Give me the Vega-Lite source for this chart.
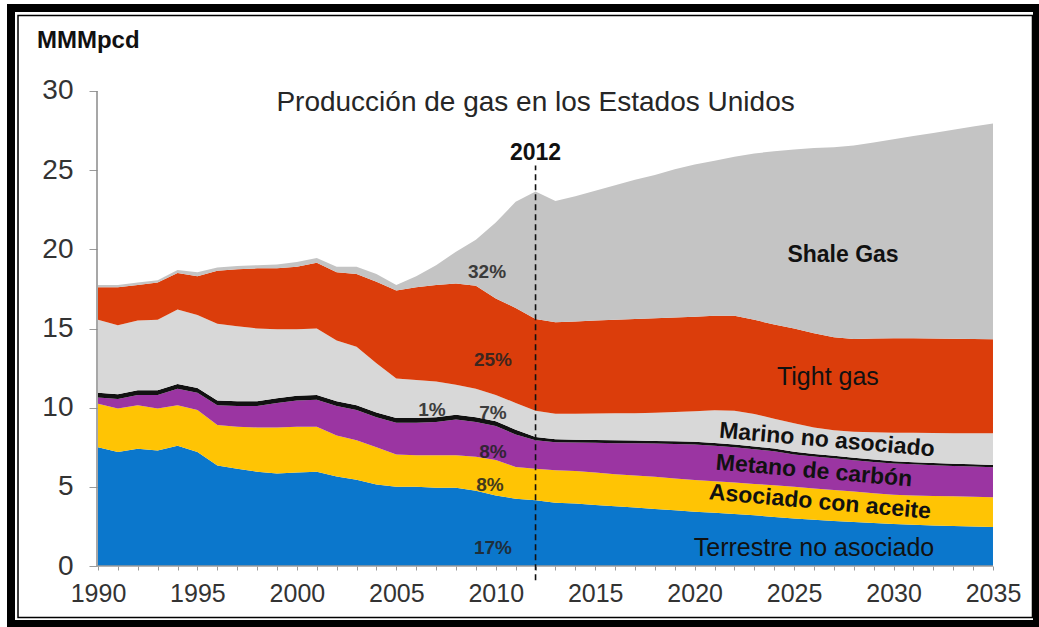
{
  "$schema": "https://vega.github.io/schema/vega-lite/v6.json",
  "width": 1026,
  "height": 616,
  "padding": {"left": 11, "top": 8, "right": 2, "bottom": 3},
  "autosize": {"type": "none"},
  "background": "white",
  "config": {
    "view": {"stroke": "black", "strokeWidth": 8, "fill": "white"},
    "font": "Liberation Sans",
    "text": {"font": "Liberation Sans"}
  },
  "resolve": {"axis": {"x": "independent"}},
  "layer": [
    {
      "data": {"values": [
        {"year":1990,"a_terrestre":7.5,"b_asociado":2.75,"c_metano":0.4,"d_alaska":0.3,"e_marino":4.6,"f_tight":2.05,"g_shale":0.15},
        {"year":1991,"a_terrestre":7.2,"b_asociado":2.75,"c_metano":0.6,"d_alaska":0.3,"e_marino":4.35,"f_tight":2.4,"g_shale":0.15},
        {"year":1992,"a_terrestre":7.4,"b_asociado":2.75,"c_metano":0.65,"d_alaska":0.3,"e_marino":4.4,"f_tight":2.25,"g_shale":0.15},
        {"year":1993,"a_terrestre":7.3,"b_asociado":2.65,"c_metano":0.85,"d_alaska":0.3,"e_marino":4.45,"f_tight":2.35,"g_shale":0.15},
        {"year":1994,"a_terrestre":7.6,"b_asociado":2.55,"c_metano":1.05,"d_alaska":0.3,"e_marino":4.7,"f_tight":2.3,"g_shale":0.2},
        {"year":1995,"a_terrestre":7.2,"b_asociado":2.65,"c_metano":1.1,"d_alaska":0.3,"e_marino":4.6,"f_tight":2.45,"g_shale":0.25},
        {"year":1996,"a_terrestre":6.35,"b_asociado":2.55,"c_metano":1.25,"d_alaska":0.3,"e_marino":4.85,"f_tight":3.35,"g_shale":0.2},
        {"year":1997,"a_terrestre":6.15,"b_asociado":2.65,"c_metano":1.3,"d_alaska":0.3,"e_marino":4.75,"f_tight":3.6,"g_shale":0.2},
        {"year":1998,"a_terrestre":5.95,"b_asociado":2.8,"c_metano":1.35,"d_alaska":0.3,"e_marino":4.6,"f_tight":3.8,"g_shale":0.2},
        {"year":1999,"a_terrestre":5.85,"b_asociado":2.9,"c_metano":1.55,"d_alaska":0.3,"e_marino":4.35,"f_tight":3.85,"g_shale":0.25},
        {"year":2000,"a_terrestre":5.9,"b_asociado":2.9,"c_metano":1.65,"d_alaska":0.3,"e_marino":4.2,"f_tight":3.95,"g_shale":0.3},
        {"year":2001,"a_terrestre":5.95,"b_asociado":2.85,"c_metano":1.7,"d_alaska":0.3,"e_marino":4.2,"f_tight":4.15,"g_shale":0.3},
        {"year":2002,"a_terrestre":5.65,"b_asociado":2.6,"c_metano":1.85,"d_alaska":0.3,"e_marino":3.85,"f_tight":4.3,"g_shale":0.35},
        {"year":2003,"a_terrestre":5.45,"b_asociado":2.5,"c_metano":1.9,"d_alaska":0.3,"e_marino":3.7,"f_tight":4.6,"g_shale":0.45},
        {"year":2004,"a_terrestre":5.15,"b_asociado":2.35,"c_metano":1.9,"d_alaska":0.3,"e_marino":3.1,"f_tight":5.15,"g_shale":0.5},
        {"year":2005,"a_terrestre":5.0,"b_asociado":2.05,"c_metano":2.0,"d_alaska":0.3,"e_marino":2.5,"f_tight":5.55,"g_shale":0.35},
        {"year":2006,"a_terrestre":5.0,"b_asociado":2.0,"c_metano":2.05,"d_alaska":0.3,"e_marino":2.4,"f_tight":5.85,"g_shale":0.7},
        {"year":2007,"a_terrestre":4.95,"b_asociado":2.05,"c_metano":2.1,"d_alaska":0.3,"e_marino":2.25,"f_tight":6.1,"g_shale":1.25},
        {"year":2008,"a_terrestre":4.95,"b_asociado":2.05,"c_metano":2.25,"d_alaska":0.3,"e_marino":1.9,"f_tight":6.4,"g_shale":2.0},
        {"year":2009,"a_terrestre":4.75,"b_asociado":2.15,"c_metano":2.2,"d_alaska":0.3,"e_marino":1.8,"f_tight":6.5,"g_shale":2.9},
        {"year":2010,"a_terrestre":4.45,"b_asociado":2.25,"c_metano":2.15,"d_alaska":0.3,"e_marino":1.65,"f_tight":6.1,"g_shale":4.8},
        {"year":2011,"a_terrestre":4.25,"b_asociado":2.0,"c_metano":2.05,"d_alaska":0.3,"e_marino":1.7,"f_tight":6.0,"g_shale":6.7},
        {"year":2012,"a_terrestre":4.15,"b_asociado":2.0,"c_metano":1.8,"d_alaska":0.2,"e_marino":1.65,"f_tight":5.8,"g_shale":8.05},
        {"year":2013,"a_terrestre":4.0,"b_asociado":2.05,"c_metano":1.77,"d_alaska":0.18,"e_marino":1.62,"f_tight":5.78,"g_shale":7.65},
        {"year":2014,"a_terrestre":3.95,"b_asociado":2.05,"c_metano":1.8,"d_alaska":0.18,"e_marino":1.64,"f_tight":5.83,"g_shale":7.9},
        {"year":2015,"a_terrestre":3.85,"b_asociado":2.05,"c_metano":1.88,"d_alaska":0.18,"e_marino":1.67,"f_tight":5.87,"g_shale":8.2},
        {"year":2016,"a_terrestre":3.78,"b_asociado":2.02,"c_metano":1.96,"d_alaska":0.18,"e_marino":1.7,"f_tight":5.91,"g_shale":8.5},
        {"year":2017,"a_terrestre":3.7,"b_asociado":2.02,"c_metano":2.03,"d_alaska":0.17,"e_marino":1.73,"f_tight":5.95,"g_shale":8.8},
        {"year":2018,"a_terrestre":3.6,"b_asociado":2.03,"c_metano":2.1,"d_alaska":0.17,"e_marino":1.78,"f_tight":5.97,"g_shale":9.05},
        {"year":2019,"a_terrestre":3.52,"b_asociado":2.01,"c_metano":2.18,"d_alaska":0.17,"e_marino":1.85,"f_tight":5.97,"g_shale":9.35},
        {"year":2020,"a_terrestre":3.43,"b_asociado":2.0,"c_metano":2.25,"d_alaska":0.17,"e_marino":1.93,"f_tight":5.97,"g_shale":9.6},
        {"year":2021,"a_terrestre":3.36,"b_asociado":1.99,"c_metano":2.25,"d_alaska":0.17,"e_marino":2.06,"f_tight":5.97,"g_shale":9.8},
        {"year":2022,"a_terrestre":3.28,"b_asociado":1.99,"c_metano":2.23,"d_alaska":0.17,"e_marino":2.13,"f_tight":6.0,"g_shale":10.05},
        {"year":2023,"a_terrestre":3.2,"b_asociado":1.98,"c_metano":2.2,"d_alaska":0.17,"e_marino":2.05,"f_tight":5.95,"g_shale":10.5},
        {"year":2024,"a_terrestre":3.1,"b_asociado":2.0,"c_metano":2.15,"d_alaska":0.17,"e_marino":1.88,"f_tight":5.95,"g_shale":10.95},
        {"year":2025,"a_terrestre":3.0,"b_asociado":2.0,"c_metano":2.05,"d_alaska":0.17,"e_marino":1.8,"f_tight":5.98,"g_shale":11.3},
        {"year":2026,"a_terrestre":2.92,"b_asociado":1.98,"c_metano":2.02,"d_alaska":0.16,"e_marino":1.67,"f_tight":5.95,"g_shale":11.7},
        {"year":2027,"a_terrestre":2.85,"b_asociado":1.95,"c_metano":2.0,"d_alaska":0.16,"e_marino":1.61,"f_tight":5.88,"g_shale":12.0},
        {"year":2028,"a_terrestre":2.78,"b_asociado":1.92,"c_metano":1.98,"d_alaska":0.16,"e_marino":1.64,"f_tight":5.85,"g_shale":12.22},
        {"year":2029,"a_terrestre":2.72,"b_asociado":1.88,"c_metano":1.97,"d_alaska":0.16,"e_marino":1.71,"f_tight":5.93,"g_shale":12.38},
        {"year":2030,"a_terrestre":2.65,"b_asociado":1.85,"c_metano":1.97,"d_alaska":0.15,"e_marino":1.8,"f_tight":5.96,"g_shale":12.57},
        {"year":2031,"a_terrestre":2.6,"b_asociado":1.85,"c_metano":1.97,"d_alaska":0.14,"e_marino":1.85,"f_tight":5.97,"g_shale":12.77},
        {"year":2032,"a_terrestre":2.56,"b_asociado":1.86,"c_metano":1.94,"d_alaska":0.14,"e_marino":1.9,"f_tight":5.97,"g_shale":12.98},
        {"year":2033,"a_terrestre":2.52,"b_asociado":1.88,"c_metano":1.92,"d_alaska":0.14,"e_marino":1.93,"f_tight":5.96,"g_shale":13.2},
        {"year":2034,"a_terrestre":2.5,"b_asociado":1.87,"c_metano":1.91,"d_alaska":0.14,"e_marino":1.96,"f_tight":5.95,"g_shale":13.42},
        {"year":2035,"a_terrestre":2.47,"b_asociado":1.88,"c_metano":1.89,"d_alaska":0.14,"e_marino":2.0,"f_tight":5.94,"g_shale":13.63}
      ]},
      "transform": [
        {"fold": ["a_terrestre","b_asociado","c_metano","d_alaska","e_marino","f_tight","g_shale"], "as": ["series","value"]}
      ],
      "mark": {"type": "area", "interpolate": "linear"},
      "encoding": {
        "x": {
          "field": "year", "type": "quantitative",
          "scale": {"domain": [1985.626, 2037.213], "nice": false, "zero": false},
          "axis": {
            "title": null, "domain": false, "grid": false, "offset": -58, "orient": "bottom",
            "values": [1990,1995,2000,2005,2010,2015,2020,2025,2030,2035],
            "format": "d", "ticks": false,
            "labelFontSize": 25, "labelColor": "#333333", "labelPadding": 15,
            "labelFont": "Liberation Sans", "labelOverlap": false, "labelFlush": false
          }
        },
        "y": {
          "field": "value", "type": "quantitative", "stack": "zero",
          "scale": {"domain": [-3.663, 35.242], "nice": false, "zero": false},
          "axis": {
            "title": null, "domain": false, "grid": false, "offset": -86,
            "values": [0,5,10,15,20,25,30],
            "tickSize": 8, "tickColor": "#9a9a9a", "tickWidth": 1,
            "labelFontSize": 28, "labelColor": "#333333", "labelPadding": 16,
            "labelFont": "Liberation Sans", "labelOverlap": false, "labelFlush": false
          }
        },
        "color": {
          "field": "series", "type": "nominal", "legend": null,
          "scale": {
            "domain": ["a_terrestre","b_asociado","c_metano","d_alaska","e_marino","f_tight","g_shale"],
            "range": ["#0b77cc","#ffc404","#9b35a2","#111111","#d8d8d8","#db3d0b","#c4c4c4"]
          }
        },
        "order": {"field": "series", "type": "ordinal", "sort": "ascending"}
      }
    },
    {
      "data": {"values": [{}]},
      "mark": {"type": "rule", "color": "#8a8a8a", "strokeWidth": 1.5},
      "encoding": {
        "x": {"datum": 1989.95, "type": "quantitative", "axis": null},
        "y": {"datum": 0, "type": "quantitative"},
        "y2": {"datum": 30}
      }
    },
    {
      "data": {"values": [{}]},
      "mark": {"type": "rule", "color": "#9a9a9a", "strokeWidth": 1.5},
      "encoding": {
        "x": {"datum": 1989.95, "type": "quantitative", "axis": null},
        "x2": {"datum": 2035},
        "y": {"datum": 0, "type": "quantitative"}
      }
    },
    {
      "data": {"values": [{}]},
      "mark": {"type": "rule", "color": "#111111", "strokeWidth": 1.6, "strokeDash": [6, 4]},
      "encoding": {
        "x": {"datum": 2012, "type": "quantitative", "axis": null},
        "y": {"datum": -0.9, "type": "quantitative"},
        "y2": {"datum": 25.3}
      }
    },
    {
      "data": {"values": [{}]},
      "mark": {"type": "rect", "filled": false, "stroke": "black", "strokeWidth": 1.5},
      "encoding": {
        "x": {"datum": 1985.978, "type": "quantitative", "axis": null},
        "x2": {"datum": 2036.986},
        "y": {"datum": 34.77, "type": "quantitative"},
        "y2": {"datum": -3.253}
      }
    },
    {
      "data": {"values": [{"label": "MMMpcd", "year": 1986.93, "value": 33.16}]},
      "mark": {"type": "text", "align": "left", "baseline": "middle", "fontSize": 24, "fontWeight": "bold", "color": "#111111"},
      "encoding": {
        "x": {"field": "year", "type": "quantitative", "axis": null},
        "y": {"field": "value", "type": "quantitative"},
        "text": {"field": "label"}
      }
    },
    {
      "data": {"values": [{"label": "Producción de gas en los Estados Unidos", "year": 2012.0, "value": 29.24}]},
      "mark": {"type": "text", "align": "center", "baseline": "middle", "fontSize": 28, "color": "#262626"},
      "encoding": {
        "x": {"field": "year", "type": "quantitative", "axis": null},
        "y": {"field": "value", "type": "quantitative"},
        "text": {"field": "label"}
      }
    },
    {
      "data": {"values": [{"label": "2012", "year": 2012.0, "value": 26.08}]},
      "mark": {"type": "text", "align": "center", "baseline": "middle", "fontSize": 23, "fontWeight": "bold", "color": "#111111"},
      "encoding": {
        "x": {"field": "year", "type": "quantitative", "axis": null},
        "y": {"field": "value", "type": "quantitative"},
        "text": {"field": "label"}
      }
    },
    {
      "data": {"values": [
        {"label": "32%", "year": 2009.56, "value": 18.57},
        {"label": "25%", "year": 2009.86, "value": 13.01},
        {"label": "1%", "year": 2006.79, "value": 9.85},
        {"label": "7%", "year": 2009.86, "value": 9.66},
        {"label": "8%", "year": 2009.86, "value": 7.2},
        {"label": "8%", "year": 2009.71, "value": 5.12},
        {"label": "17%", "year": 2009.86, "value": 1.14}
      ]},
      "mark": {"type": "text", "align": "center", "baseline": "middle", "fontSize": 19, "fontWeight": "bold", "color": "#222222", "opacity": 0.85},
      "encoding": {
        "x": {
          "field": "year", "type": "quantitative",
          "axis": {
            "orient": "top", "title": null, "domain": false, "grid": false, "offset": -562,
            "values": [1990,1991,1992,1993,1994,1995,1996,1997,1998,1999,2000,2001,2002,2003,2004,2005,2006,2007,2008,2009,2010,2011,2012,2013,2014,2015,2016,2017,2018,2019,2020,2021,2022,2023,2024,2025,2026,2027,2028,2029,2030,2031,2032,2033,2034,2035],
            "labels": false, "tickSize": 4, "tickColor": "#9a9a9a", "tickWidth": 1
          }
        },
        "y": {"field": "value", "type": "quantitative"},
        "text": {"field": "label"}
      }
    },
    {
      "data": {"values": [{"label": "Shale Gas", "year": 2027.46, "value": 19.64}]},
      "mark": {"type": "text", "align": "center", "baseline": "middle", "fontSize": 23, "fontWeight": "bold", "color": "#111111"},
      "encoding": {
        "x": {"field": "year", "type": "quantitative", "axis": null},
        "y": {"field": "value", "type": "quantitative"},
        "text": {"field": "label"}
      }
    },
    {
      "data": {"values": [
        {"label": "Tight gas", "year": 2026.7, "value": 11.94},
        {"label": "Terrestre no asociado", "year": 2026.0, "value": 1.14}
      ]},
      "mark": {"type": "text", "align": "center", "baseline": "middle", "fontSize": 25, "color": "#111111"},
      "encoding": {
        "x": {"field": "year", "type": "quantitative", "axis": null},
        "y": {"field": "value", "type": "quantitative"},
        "text": {"field": "label"}
      }
    },
    {
      "data": {"values": [
        {"label": "Marino no asociado", "year": 2026.65, "value": 7.96},
        {"label": "Metano de carbón", "year": 2026.0, "value": 6.0},
        {"label": "Asociado con aceite", "year": 2026.3, "value": 4.04}
      ]},
      "mark": {"type": "text", "align": "center", "baseline": "middle", "fontSize": 23, "fontWeight": "bold", "color": "#111111", "angle": 5},
      "encoding": {
        "x": {"field": "year", "type": "quantitative", "axis": null},
        "y": {"field": "value", "type": "quantitative"},
        "text": {"field": "label"}
      }
    }
  ]
}
